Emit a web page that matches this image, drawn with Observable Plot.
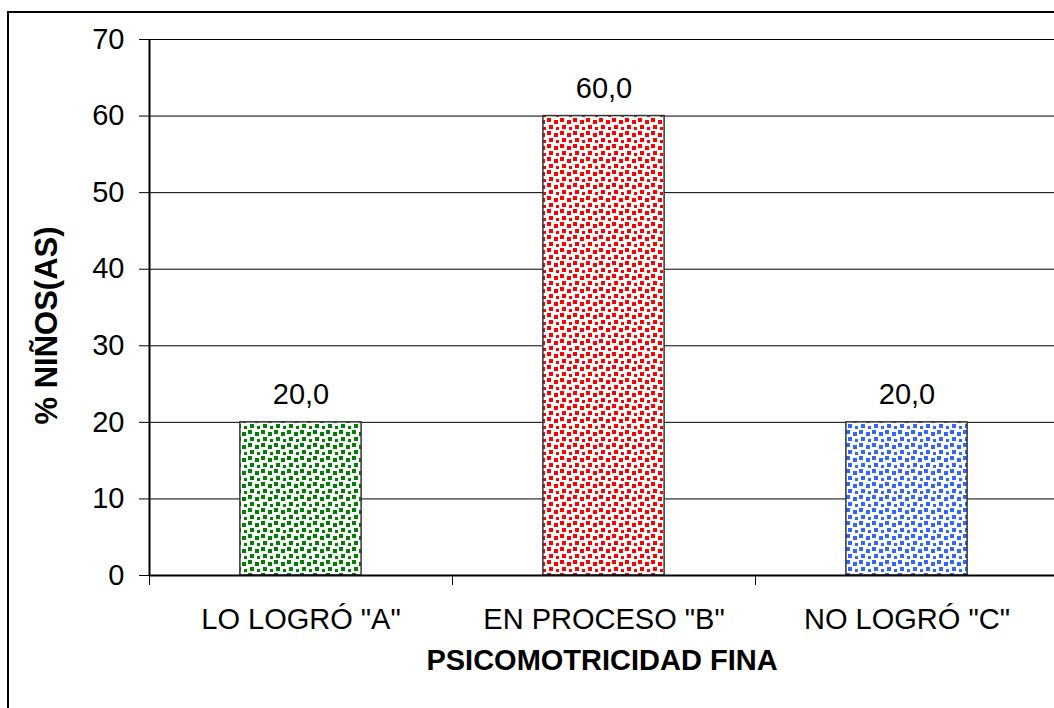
<!DOCTYPE html>
<html><head><meta charset="utf-8">
<script src="https://cdn.jsdelivr.net/npm/d3@7"></script>
<script src="https://cdn.jsdelivr.net/npm/@observablehq/plot@0.6"></script>
<style>
body{margin:0;overflow:hidden;background:#fff;width:1054px;height:708px;position:relative}
#chart{position:absolute;left:0;top:0}
#frame{position:absolute;left:7px;top:11px;width:1100px;height:760px;border:2px solid #000;pointer-events:none}
g[aria-label="x-axis label"] text{font-weight:bold;font-size:29px}
</style></head><body>
<div id="chart"></div>
<div id="frame"></div>
<script>
const categories = ['LO LOGRÓ "A"', 'EN PROCESO "B"', 'NO LOGRÓ "C"'];
const values = [20, 60, 20];
const valueLabels = ["20,0", "60,0", "20,0"];
const colors = ["#008000", "#ff0000", "#3366ff"];
const yTicks = [0, 10, 20, 30, 40, 50, 60, 70];
const xTitle = "PSICOMOTRICIDAD FINA";
const yTitle = "% NIÑOS(AS)";

const data = categories.map((c, i) => ({i, cat: c, value: values[i], label: valueLabels[i]}));
const font = '"Liberation Sans", Arial, sans-serif';

const plot = Plot.plot({
  width: 1054, height: 708,
  marginLeft: 149, marginTop: 39, marginBottom: 133, marginRight: 0,
  style: {fontFamily: font, fontSize: "29px", background: "transparent", color: "#000"},
  x: {domain: [0, 3], range: [149, 1058]},
  y: {domain: [0, 70]},
  marks: [
    Plot.ruleY(yTicks, {stroke: "#000", strokeWidth: 1}),
    ...data.map(d => Plot.rectY([d], {x1: v => v.i + 0.3, x2: v => v.i + 0.7, y: "value",
      fill: `url(#pat${d.i})`, stroke: "#333", strokeWidth: 1.5})),
    Plot.text(data, {x: d => d.i + 0.5, y: "value", text: "label", lineAnchor: "bottom", dy: -18, fontSize: 29}),
    Plot.axisY({ticks: yTicks, tickSize: 10, tickPadding: 15, fontSize: 29, tickFormat: d => String(d),
      label: null, stroke: "#000"}),
    Plot.text([yTitle], {frameAnchor: "left", rotate: -90, dx: -102, dy: 18,
      fontWeight: "bold", fontSize: 31, textAnchor: "middle"}),
    Plot.ruleX([0], {y1: 0, y2: 70, stroke: "#000", strokeWidth: 2}),
    Plot.axisX({ticks: [0, 1, 2, 3], tickSize: 10, tickFormat: () => "", label: null, stroke: "#000"}),
    Plot.axisX({ticks: [0.5, 1.5, 2.5], tickSize: 0, tickPadding: 33, fontSize: 29,
      tickFormat: d => categories[Math.floor(d)],
      label: xTitle, labelAnchor: "center", labelOffset: 94, labelArrow: "none"}),
    Plot.ruleY([0], {stroke: "#000", strokeWidth: 2})
  ]
});

// dotted fill patterns
const ns = "http://www.w3.org/2000/svg";
const defs = document.createElementNS(ns, "defs");
const dots = [[0,0],[7,2],[2,7],[9,9]];
colors.forEach((col, k) => {
  const p = document.createElementNS(ns, "pattern");
  p.setAttribute("id", "pat" + k);
  p.setAttribute("patternUnits", "userSpaceOnUse");
  p.setAttribute("width", 13); p.setAttribute("height", 13);
  const bg = document.createElementNS(ns, "rect");
  bg.setAttribute("width", 13); bg.setAttribute("height", 13); bg.setAttribute("fill", "#fff");
  p.appendChild(bg);
  dots.forEach(([x, y]) => {
    const r = document.createElementNS(ns, "rect");
    r.setAttribute("x", x + 1); r.setAttribute("y", y + 1);
    r.setAttribute("width", 4); r.setAttribute("height", 4);
    r.setAttribute("fill", col);
    p.appendChild(r);
  });
  defs.appendChild(p);
});
plot.insertBefore(defs, plot.firstChild);
document.getElementById("chart").appendChild(plot);
</script>
</body></html>
